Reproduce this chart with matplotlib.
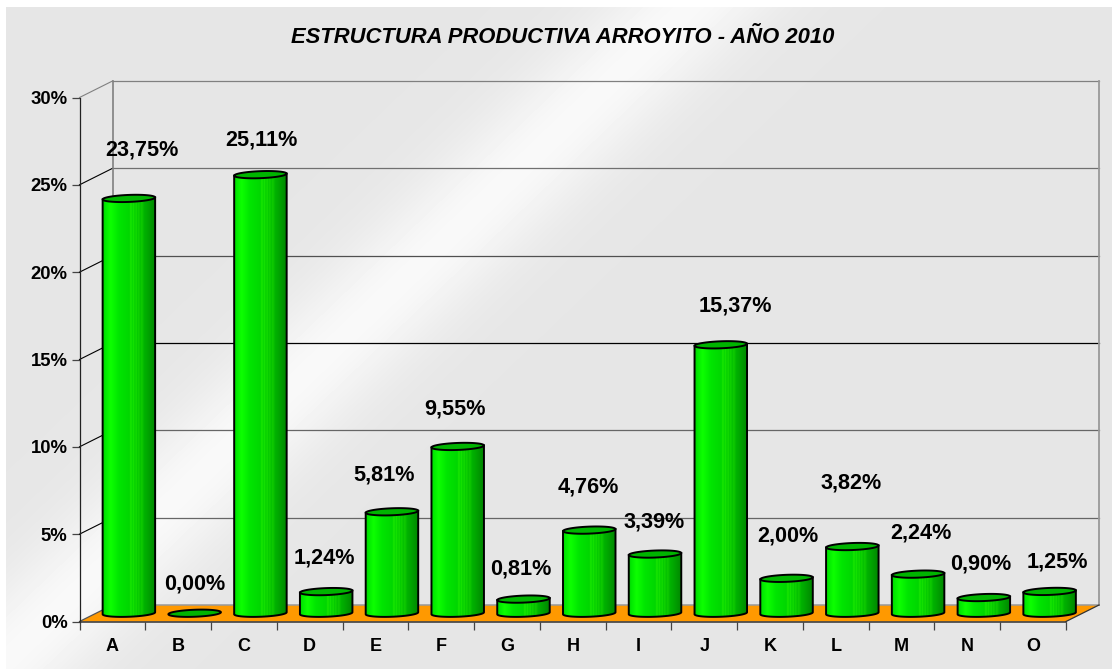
import numpy as np
import matplotlib
matplotlib.use("Agg")
import matplotlib.pyplot as plt
from matplotlib.patches import Polygon, PathPatch
from matplotlib.path import Path

plt.rcParams['font.family'] = ['Liberation Sans', 'DejaVu Sans']

# datos
CATEGORIAS = ["A", "B", "C", "D", "E", "F", "G", "H", "I", "J", "K", "L", "M", "N", "O"]
VALORES = [23.75, 0.00, 25.11, 1.24, 5.81, 9.55, 0.81, 4.76, 3.39, 15.37, 2.00, 3.82, 2.24, 0.90, 1.25]
ETIQUETAS = ["23,75%", "0,00%", "25,11%", "1,24%", "5,81%", "9,55%", "0,81%", "4,76%",
             "3,39%", "15,37%", "2,00%", "3,82%", "2,24%", "0,90%", "1,25%"]
TICKS_Y = [0, 5, 10, 15, 20, 25, 30]
TICKS_Y_TXT = ["0%", "5%", "10%", "15%", "20%", "25%", "30%"]
TITULO = "ESTRUCTURA PRODUCTIVA ARROYITO - AÑO 2010"

# desplazamiento de cada etiqueta respecto a la tapa del cilindro (px)
ETQ_DX = [13, 0, 1.5, -2, -8, -3, -2.5, -0.5, -1, 15, 1, -1, 3, -3.5, 8]
ETQ_DY = [48, 29, 35, 34, 36.5, 37, 30, 43, 32, 38.5, 42, 64, 41, 34, 29]

# colores de la rejilla por nivel
COLOR_REJILLA = {5: "#666666", 10: "#666666", 15: "#000000", 20: "#505050", 25: "#707070", 30: "#808080"}

# geometria en px
W, H = 1112, 669
X0, X1 = 79.5, 1066.0
Y0, Y30 = 621.5, 97.5
PX_X = (X1 - X0) / 15
PX_Y = (Y0 - Y30) / 30
PROF_X = 33 / PX_X
PROF_Y = 16.5 / PX_Y
ANCHO = 52.5 / PX_X
ALTO_ELIPSE = 7 / PX_Y
GIRO = 1.0 / PX_Y   # la elipse sube un poco hacia la derecha

fig = plt.figure(figsize=(W / 100, H / 100), dpi=100, facecolor="white")

# ── Fondo con banda diagonal ──────────────────────────────────
ax_bg = fig.add_axes([6 / W, 0, 1 - 6 / W, 1 - 7 / H])
xx, yy = np.meshgrid(np.arange(6, W), np.arange(7, H))
t = xx + 1.044 * yy - 695
gris = 0.902 + (0.975 - 0.902) * np.exp(-(t / 85.0) ** 2)
ax_bg.imshow(gris, cmap="gray", vmin=0, vmax=1, aspect="auto", interpolation="bilinear")
ax_bg.axis("off")

# ── Ejes sobre el plano frontal ───────────────────────────────
ax = fig.add_axes([X0 / W, 1 - Y0 / H, (X1 - X0) / W, (Y0 - Y30) / H])
ax.patch.set_alpha(0)

# suelo
ax.add_patch(Polygon([(0, 0), (15, 0), (15 + PROF_X, PROF_Y), (PROF_X, PROF_Y)],
                     closed=True, fc="#FF9900", ec="none", zorder=1, clip_on=False))

# paredes y rejilla
for n in TICKS_Y[1:]:
    c = COLOR_REJILLA[n]
    ax.plot([PROF_X, 15 + PROF_X], [n + PROF_Y] * 2, color=c, lw=0.9, zorder=2, clip_on=False)
    ax.plot([0, PROF_X], [n, n + PROF_Y], color=c if n == 30 else "#000000", lw=0.8, zorder=2, clip_on=False)
ax.plot([PROF_X, 15 + PROF_X], [PROF_Y, PROF_Y], color="#999999", lw=1.1, zorder=1.5, clip_on=False)
ax.plot([PROF_X, PROF_X], [PROF_Y, 30 + PROF_Y], color="#808080", lw=1.2, zorder=2, clip_on=False)
ax.plot([15 + PROF_X] * 2, [PROF_Y, 30 + PROF_Y], color="#999999", lw=1.3, zorder=2, clip_on=False)
ax.plot([15, 15 + PROF_X], [0, PROF_Y], color="#333333", lw=0.9, zorder=2, clip_on=False)
ax.plot([0, PROF_X], [0, PROF_Y], color="#555555", lw=0.9, zorder=2, clip_on=False)

# sombreado del cilindro: posicion relativa -> verde
STOPS = [0.00, 0.03, 0.14, 0.30, 0.50, 0.53, 0.55, 0.58, 0.60, 0.63, 0.65, 0.68, 0.70, 0.73, 0.78, 0.86, 1.00]
VERDE = [0.80, 0.90, 1.00, 0.90, 0.84, 0.92, 0.83, 0.90, 0.80, 0.87, 0.78, 0.84, 0.74, 0.80, 0.70, 0.64, 0.52]
ROJO = [0.00, 0.00, 0.05, 0.00, 0.00, 0.12, 0.00, 0.10, 0.00, 0.09, 0.00, 0.08, 0.00, 0.06, 0.00, 0.00, 0.00]
u = np.linspace(0, 1, 120)
sombra = np.dstack([np.interp(u, STOPS, ROJO), np.interp(u, STOPS, VERDE), np.zeros_like(u)])


def cilindro(i, v):
    cx = i + 0.5 + PROF_X / 2
    cy = PROF_Y / 2
    a = ANCHO / 2
    b = ALTO_ELIPSE / 2
    ang = np.linspace(np.pi, 2 * np.pi, 40)
    if v > 0:
        arco_x = cx + a * np.cos(ang)
        arco_y = cy + b * np.sin(ang) + GIRO * np.cos(ang)
        verts = [(cx - a, cy + v - GIRO)] + list(zip(arco_x, arco_y)) + [(cx + a, cy + v + GIRO), (cx - a, cy + v - GIRO)]
        codes = [Path.MOVETO] + [Path.LINETO] * 41 + [Path.CLOSEPOLY]
        contorno = Path(verts, codes)
        im = ax.imshow(sombra, extent=(cx - a, cx + a, cy - 2 * b, cy + v + GIRO), aspect="auto",
                       interpolation="bilinear", zorder=3)
        im.set_clip_box(fig.bbox)
        im.set_clip_path(contorno, ax.transData)
        ax.add_patch(PathPatch(contorno, fc="none", ec="black", lw=1.4, zorder=3.1, clip_on=False))
    giro = np.linspace(0, 2 * np.pi, 80)
    tapa = np.column_stack([cx + a * np.cos(giro), cy + v + b * np.sin(giro) + GIRO * np.cos(giro)])
    ax.add_patch(Polygon(tapa, closed=True, fc="#00B400", ec="black", lw=1.4, zorder=3.2, clip_on=False))
    return cx, cy + v


for i, (v, txt) in enumerate(zip(VALORES, ETIQUETAS)):
    cx, top = cilindro(i, v)
    ax.annotate(txt, xy=(cx, top), xytext=(ETQ_DX[i], ETQ_DY[i]), textcoords="offset pixels",
                ha="center", va="center", fontsize=15.6, fontweight="bold", color="#000000",
                zorder=5, annotation_clip=False)

ax.set_xlim(0, 15)
ax.set_ylim(0, 30)

for s in ["top", "right"]:
    ax.spines[s].set_visible(False)
ax.spines["left"].set_color("#222222")
ax.spines["bottom"].set_color("#333333")
ax.spines["left"].set_linewidth(0.9)
ax.spines["bottom"].set_linewidth(1.1)
for s in ax.spines.values():
    s.set_zorder(4)

ax.set_yticks(TICKS_Y)
ax.set_yticklabels(TICKS_Y_TXT, fontsize=13.3, fontweight="bold")
ax.tick_params(axis="y", length=6, width=0.9, pad=2.5, color="#444444")
ax.set_xticks(np.arange(0, 16))
ax.set_xticklabels([])
ax.tick_params(axis="x", which="major", length=6, width=0.9, color="#444444")
ax.set_xticks(np.arange(15) + 0.5, minor=True)
ax.set_xticklabels(CATEGORIAS, minor=True, fontsize=13, fontweight="bold")
ax.tick_params(axis="x", which="minor", length=0, pad=12)

fig.text(563 / W, 1 - 37.5 / H, TITULO, ha="center", va="center", fontsize=15.8,
         fontweight="bold", fontstyle="italic", color="#000000")

fig.savefig("out.png", dpi=100)
